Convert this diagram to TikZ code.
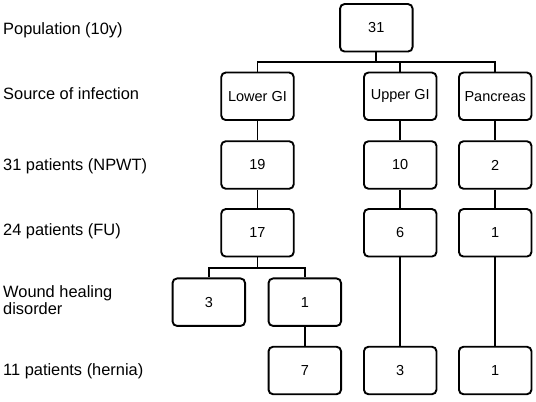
\documentclass[tikz,border=0pt]{standalone}
\usepackage{fontspec}
\setmainfont{Liberation Sans}
\begin{document}
\begin{tikzpicture}[x=1pt,y=1pt,
  box/.style={draw=black, line width=1.9pt, rounded corners=4.5pt, fill=white,
    minimum width=72.5pt, minimum height=47.5pt, inner sep=0pt,
    font=\fontsize{14.5}{16}\selectfont},
  lab/.style={anchor=base west, inner sep=0pt, align=left,
    font=\fontsize{16.4}{17.4}\selectfont},
  conn/.style={draw=black, line width=1.9pt}]
\useasboundingbox (0,0) rectangle (536,402);
% left labels
\node[lab] (l1) at (3,{402-34.3}) {Population (10y)};
\node[lab] (l2) at (3,{402-100}) {Source of infection};
\node[lab] (l3) at (3,{402-170.7}) {31 patients (NPWT)};
\node[lab] (l4) at (3,{402-236}) {24 patients (FU)};
\node[lab] (l5) at (3,{402-315}) {Wound healing\\disorder};
\node[lab] (l6) at (3,{402-375.7}) {11 patients (hernia)};
% boxes
\node[box] (top) at (376.3,{402-27.8}) {31};
\node[box] (lgi) at (257.5,{402-96.3}) {Lower GI};
\node[box] (ugi) at (400.2,{402-96.3}) {Upper GI};
\node[box] (pan) at (495.2,{402-96.3}) {Pancreas};
\node[box] (n19) at (257.5,{402-165}) {19};
\node[box] (n10) at (400.2,{402-165}) {10};
\node[box] (n2) at (495.2,{402-165}) {2};
\node[box] (n17) at (257.5,{402-232.8}) {17};
\node[box] (n6) at (400.2,{402-232.8}) {6};
\node[box] (n1a) at (495.2,{402-232.8}) {1};
\node[box] (w3) at (208.8,{402-302.2}) {3};
\node[box] (w1) at (304.8,{402-302.2}) {1};
\node[box] (h7) at (304.8,{402-370.5}) {7};
\node[box] (h3) at (400.2,{402-370.5}) {3};
\node[box] (h1) at (495.2,{402-370.5}) {1};
% bus coordinates
\coordinate (b1) at (376.3,{402-61.7});
\coordinate (b2) at (257.5,{402-267.7});
% connectors
\draw[conn] (top.south) -- (b1);
\draw[conn] (b1) -| (lgi.north);
\draw[conn] (b1) -| (ugi.north);
\draw[conn] (b1) -| (pan.north);
\draw[conn] (lgi) -- (n19);
\draw[conn] (ugi) -- (n10);
\draw[conn] (pan) -- (n2);
\draw[conn] (n19) -- (n17);
\draw[conn] (n10) -- (n6);
\draw[conn] (n2) -- (n1a);
\draw[conn] (n17.south) -- (b2);
\draw[conn] (b2) -| (w3.north);
\draw[conn] (b2) -| (w1.north);
\draw[conn] (w1) -- (h7);
\draw[conn] (n6) -- (h3);
\draw[conn] (n1a) -- (h1);
\end{tikzpicture}
\end{document}
